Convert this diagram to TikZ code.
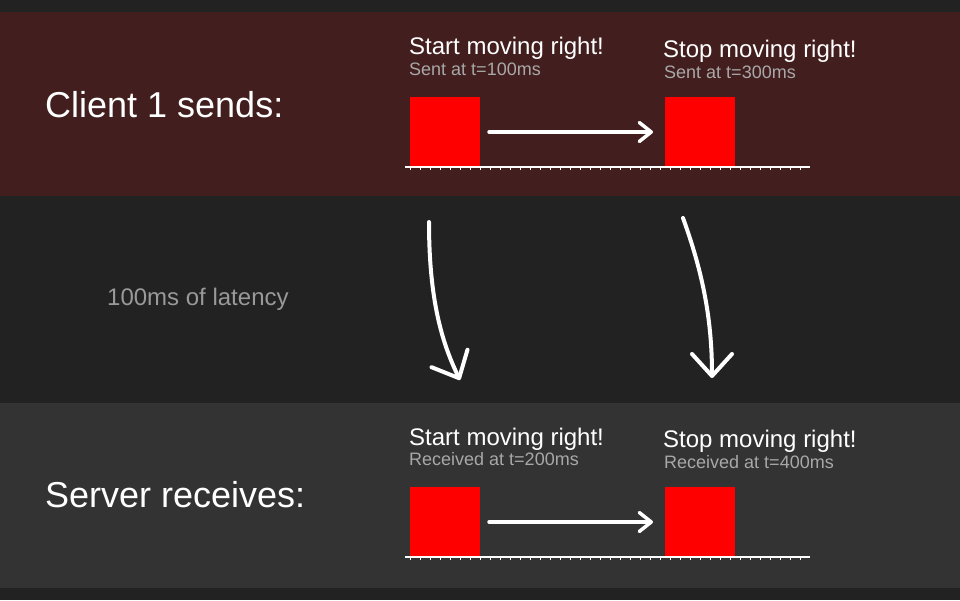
\documentclass[tikz,border=0pt]{standalone}
\usepackage{fontspec}
\setmainfont{Liberation Sans}
\usetikzlibrary{arrows.meta}

\definecolor{bgdark}{HTML}{222222}
\definecolor{bandred}{HTML}{431E1E}
\definecolor{bandgray}{HTML}{333333}
\definecolor{subgray}{HTML}{A8A8A8}
\definecolor{latgray}{HTML}{999999}

\tikzset{
  redbox/.style={fill=red,minimum size=70pt,inner sep=0pt,outer sep=0pt},
  bigtext/.style={anchor=base west,inner sep=0pt,white,font=\fontsize{36}{40}\selectfont},
  headtext/.style={anchor=base west,inner sep=0pt,white,font=\fontsize{24}{28}\selectfont},
  subtext/.style={anchor=base west,inner sep=0pt,subgray,font=\fontsize{18}{22}\selectfont},
  moveto/.style={white,line width=3.5pt,line cap=round,-{Straight Barb[length=12pt,width=19pt,round]}},
  lagto/.style={white,line width=4pt,line cap=round,-{Straight Barb[length=22pt,width=40pt,round]}}
}

\begin{document}
\begin{tikzpicture}[x=1pt,y=-1pt]
\fill[bgdark] (0,0) rectangle (960,600);
\fill[bandred] (0,12) rectangle (960,196);
\fill[bandgray] (0,403) rectangle (960,588);

 \node[bigtext] (clientlbl) at (45,117) {Client 1 sends:};
 \node[bigtext] (serverlbl) at (45,507) {Server receives:};
 \node[anchor=base west,inner sep=0pt,latgray,font=\fontsize{24}{28}\selectfont] (latency) at (107,305) {100ms of latency};

 \node[redbox] (sendstart) at (445,132) {};
 \node[redbox] (sendstop) at (700,132) {};
 \node[redbox] (recvstart) at (445,522) {};
 \node[redbox] (recvstop) at (700,522) {};

 \node[headtext] (sendstarthead) at (409,54.5) {Start moving right!};
 \node[subtext] (sendstartsub) at (409,75) {Sent at t=100ms};
 \node[headtext] (sendstophead) at (663,57) {Stop moving right!};
 \node[subtext] (sendstopsub) at (664,78) {Sent at t=300ms};
 \node[headtext] (recvstarthead) at (409,445) {Start moving right!};
 \node[subtext] (recvstartsub) at (409,465.5) {Received at t=200ms};
 \node[headtext] (recvstophead) at (663,447) {Stop moving right!};
 \node[subtext] (recvstopsub) at (664,468) {Received at t=400ms};

 % time rulers
 \foreach \y in {167,557}{
   \draw[white,line width=1.5pt] (405,\y) -- (810,\y);
   \foreach \x in {410,420,...,800}
     \draw[white,line width=1pt] (\x,\y) -- (\x,\y+3);
 }

 \draw[moveto] ([xshift=9pt]sendstart.east) -- ([xshift=-12pt]sendstop.west);
 \draw[moveto] ([xshift=9pt]recvstart.east) -- ([xshift=-12pt]recvstop.west);

 \coordinate (sendgo) at (429,222);
 \coordinate (recvgo) at (460,380);
 \coordinate (sendhalt) at (683,218);
 \coordinate (recvhalt) at (712,378);
 \draw[lagto] (sendgo) .. controls (429,300) and (442,343) .. (recvgo);
 \draw[lagto] (sendhalt) .. controls (701,268) and (712,315) .. (recvhalt);
\end{tikzpicture}
\end{document}
